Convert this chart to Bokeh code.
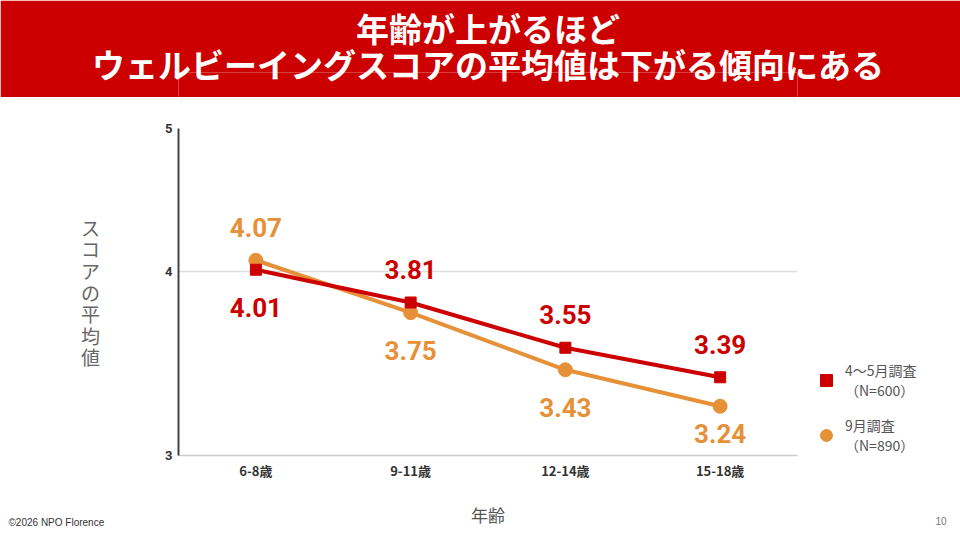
from bokeh.plotting import figure
from bokeh.layouts import column
from bokeh.models import ColumnDataSource, FixedTicker, Range1d, Title, Legend, LegendItem
from bokeh.core.properties import value
from bokeh.embed import file_html
from bokeh.resources import INLINE
import math

# データ
ages = ["6-8歳", "9-11歳", "12-14歳", "15-18歳"]
score_may = [4.01, 3.81, 3.55, 3.39]   # 4〜5月調査 (N=600)
score_sep = [4.07, 3.75, 3.43, 3.24]   # 9月調査 (N=890)
y_ticks = [3, 4, 5]

title_lines = ["年齢が上がるほど", "ウェルビーイングスコアの平均値は下がる傾向にある"]
legend_may = "4〜5月調査\n（N=600）"
legend_sep = "9月調査\n（N=890）"

RED = "#cc0000"
ORANGE = "#e69138"
JP = "Noto Sans CJK JP"

W = 960
BANNER_H = 97
MAIN_H = 443
FRAME_W, FRAME_H = 619, 327
LEFT, RIGHT = 178, 163

# タイトル帯 (Title はフレームに切られない)
banner = figure(width=W, height=BANNER_H, frame_width=FRAME_W, x_range=Range1d(0, 1), y_range=Range1d(0, 1),
                output_backend="svg", toolbar_location=None,
                min_border_left=LEFT, min_border_right=RIGHT, min_border_top=0, min_border_bottom=0)
banner.axis.visible = False
banner.grid.visible = False
banner.outline_line_color = None
banner.background_fill_color = RED
banner.border_fill_color = RED
banner.title = None
# 先に足したものがフレーム側 (下の行)
banner.add_layout(Title(text=title_lines[1], align="center", vertical_align="top", standoff=-34,
                        text_color="white", text_font=JP, text_font_style="bold",
                        text_font_size="33px"), "above")
banner.add_layout(Title(text=title_lines[0], align="center", vertical_align="top", standoff=6,
                        text_color="white", text_font=JP, text_font_style="bold",
                        text_font_size="33px"), "above")

# メインチャート
p = figure(width=W, height=MAIN_H, frame_width=FRAME_W, frame_height=FRAME_H,
           x_range=ages, y_range=Range1d(3, 5), y_axis_type="log",
           output_backend="svg", toolbar_location=None,
           min_border_left=LEFT, min_border_right=RIGHT, min_border_top=31, min_border_bottom=85)
p.outline_line_color = None
p.background_fill_color = "white"

p.xgrid.visible = False
p.ygrid.ticker = FixedTicker(ticks=y_ticks)
p.ygrid.grid_line_color = "#dddddd"
p.ygrid.grid_line_width = 1.5

p.yaxis.ticker = FixedTicker(ticks=y_ticks)
p.yaxis.major_label_overrides = {t: str(t) for t in y_ticks}
p.yaxis.axis_line_color = "#444444"
p.yaxis.axis_line_width = 2
p.yaxis.major_tick_line_color = None
p.yaxis.minor_tick_line_color = None
p.yaxis.major_label_standoff = 0
p.yaxis.major_label_text_font = "Roboto"
p.yaxis.major_label_text_font_style = "bold"
p.yaxis.major_label_text_font_size = "13px"
p.yaxis.major_label_text_color = "#333333"
p.yaxis.axis_label = "\n".join("スコアの平均値")
p.yaxis.axis_label_orientation = "horizontal"
p.yaxis.axis_label_standoff = 62
p.yaxis.axis_label_text_font = JP
p.yaxis.axis_label_text_font_style = "normal"
p.yaxis.axis_label_text_font_size = "19px"
p.yaxis.axis_label_text_line_height = 0.8
p.yaxis.axis_label_text_color = "#666666"

p.xaxis.axis_line_color = "#cccccc"
p.xaxis.axis_line_width = 1.5
p.xaxis.major_tick_line_color = None
p.xaxis.minor_tick_line_color = None
p.xaxis.major_label_standoff = -1
p.xaxis.major_label_text_font = JP
p.xaxis.major_label_text_font_style = "bold"
p.xaxis.major_label_text_font_size = "13px"
p.xaxis.major_label_text_color = "#333333"
p.xaxis.axis_label = "年齢"
p.xaxis.axis_label_standoff = 19
p.xaxis.axis_label_text_font = JP
p.xaxis.axis_label_text_font_style = "normal"
p.xaxis.axis_label_text_font_size = "17px"
p.xaxis.axis_label_text_color = "#555555"


# ラベル位置: 上側の系列は上に、下側は下に (下端に近いときは詰める)
def room_below(v):
    return math.log10(v / y_ticks[0]) / math.log10(y_ticks[-1] / y_ticks[0]) * FRAME_H


def offsets(mine, other):
    return [-33 if a >= b else min(38, room_below(a) - 22) for a, b in zip(mine, other)]


src_may = ColumnDataSource(dict(x=ages, y=score_may, lab=[f"{v:.2f}" for v in score_may],
                                off=offsets(score_may, score_sep)))
src_sep = ColumnDataSource(dict(x=ages, y=score_sep, lab=[f"{v:.2f}" for v in score_sep],
                                off=offsets(score_sep, score_may)))

p.line("x", "y", source=src_sep, line_color=ORANGE, line_width=4)
p.line("x", "y", source=src_may, line_color=RED, line_width=4)
r_sep = p.scatter("x", "y", source=src_sep, marker="circle", size=14, color=ORANGE)
r_may = p.scatter("x", "y", source=src_may, marker="square", size=11, color=RED)

for src, col in ((src_may, RED), (src_sep, ORANGE)):
    p.text("x", "y", text="lab", source=src, y_offset="off", text_color=col,
           text_font=value("Roboto"), text_font_style="bold", text_font_size="26px",
           text_align="center", text_baseline="middle")

legend = Legend(items=[LegendItem(label=legend_may, renderers=[r_may]),
                       LegendItem(label=legend_sep, renderers=[r_sep])],
                location=(10, 0), margin=0, padding=4, spacing=15,
                glyph_width=38, glyph_height=30, label_standoff=0,
                label_text_font=JP, label_text_font_size="14px", label_text_color="#555555",
                label_text_line_height=1.3, border_line_color=None, background_fill_alpha=0)
p.add_layout(legend, "right")

# フッター (2つの Title を同じ高さに重ねる)
p.add_layout(Title(text="©2026 NPO Florence", align="left", offset=-170, standoff=-26,
                   vertical_align="top", text_font="Liberation Sans", text_font_style="normal",
                   text_font_size="10px", text_color="#333333"), "below")
p.add_layout(Title(text="10", align="right", offset=-149, standoff=-26,
                   vertical_align="top", text_font="Liberation Sans", text_font_style="normal",
                   text_font_size="10px", text_color="#777777"), "below")

layout = column(banner, p, spacing=0)
open("out.html", "w").write(file_html(layout, INLINE))
